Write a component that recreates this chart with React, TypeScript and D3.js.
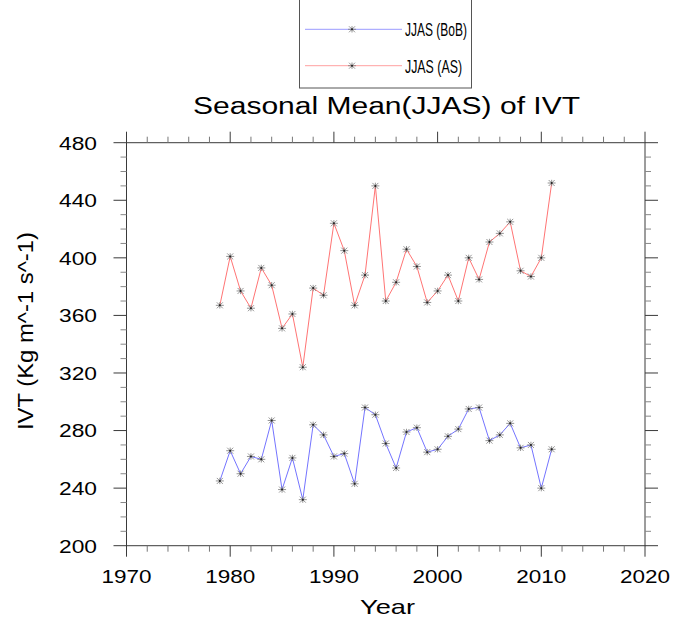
import React from 'react';
import * as d3 from 'd3';

// yearly seasonal mean IVT (JJAS)
const years = d3.range(1979, 2012);
const bobValues = [
  245, 266, 250, 262, 260, 287, 239, 261, 232, 284, 277, 262, 264, 243, 296, 291,
  271, 254, 279, 282, 265, 267, 276, 281, 295, 296, 273, 277, 285, 268, 270, 240, 267,
];
const asValues = [
  367, 401, 377, 365, 393, 381, 351, 361, 324, 379, 374, 424, 405, 367, 388, 450,
  370, 383, 406, 394, 369, 377, 388, 370, 400, 385, 411, 417, 425, 391, 387, 400, 452,
];
const xTicks = [1970, 1980, 1990, 2000, 2010, 2020];
const yTicks = [200, 240, 280, 320, 360, 400, 440, 480];
const seriesNames = ['JJAS (BoB)', 'JJAS (AS)'];
const seriesColors = ['#7474ff', '#ff7474'];
const legendColors = ['#9a9aff', '#ffa0a0'];

const W = 673;
const H = 619;
const FONT = '"Liberation Sans", Arial, Helvetica, sans-serif';

const Marker: React.FC<{ x: number; y: number }> = ({ x, y }) => (
  <g transform={`translate(${x},${y})`} stroke="#7a7a7a" strokeWidth={0.8}>
    <line x1={-4} y1={0} x2={4} y2={0} />
    <line x1={-3} y1={-3} x2={3} y2={3} />
    <line x1={-3} y1={3} x2={3} y2={-3} />
    <line x1={0} y1={-3.2} x2={0} y2={3.2} />
    <circle r={1} fill="#222" stroke="none" />
  </g>
);

const App: React.FC = () => {
  const x = d3.scaleLinear().domain([1970, 2020]).range([126.5, 645]);
  const y = d3.scaleLinear().domain([200, 480]).range([545.7, 142.7]);
  const [x0, x1] = x.range();
  const [y0, y1] = y.range();

  const line = d3
    .line<number>()
    .x((_, i) => x(years[i]))
    .y((d) => y(d));

  const xMinor = d3.range(1970, 2021, 2).filter((v) => v % 10 !== 0);
  const yMinor = d3.range(200, 481, 10).filter((v) => v % 40 !== 0);
  const frame = '#3a3a3a';

  const series = [bobValues, asValues];

  return (
    <svg
      width={W}
      height={H}
      style={{ position: 'absolute', left: 0, top: 0, background: '#fff' }}
      fontFamily={FONT}
    >
      {/* legend */}
      <rect x={299.5} y={-1} width={172} height={89} fill="none" stroke="#555" strokeWidth={1} />
      {seriesNames.map((name, i) => {
        const ly = i === 0 ? 29.3 : 65.7;
        return (
          <g key={name}>
            <line x1={305} x2={402} y1={ly} y2={ly} stroke={legendColors[i]} strokeWidth={1} />
            <Marker x={352} y={ly} />
            <text
              x={405}
              y={ly + 7}
              fontSize={18.5}
              textLength={i === 0 ? 62 : 57}
              lengthAdjust="spacingAndGlyphs"
            >
              {name}
            </text>
          </g>
        );
      })}

      {/* title */}
      <text
        x={386.5}
        y={114.3}
        fontSize={23}
        textAnchor="middle"
        textLength={387}
        lengthAdjust="spacingAndGlyphs"
      >
        Seasonal Mean(JJAS) of IVT
      </text>

      {/* frame */}
      <rect x={x0} y={y1} width={x1 - x0} height={y0 - y1} fill="none" stroke={frame} strokeWidth={1} />

      {/* x ticks */}
      {xTicks.map((t) => (
        <g key={`xt${t}`} stroke={frame}>
          <line x1={x(t)} x2={x(t)} y1={y0} y2={y0 + 11} />
          <line x1={x(t)} x2={x(t)} y1={y1} y2={y1 - 11} />
        </g>
      ))}
      {xMinor.map((t) => (
        <g key={`xm${t}`} stroke="#777">
          <line x1={x(t)} x2={x(t)} y1={y0} y2={y0 + 6} />
          <line x1={x(t)} x2={x(t)} y1={y1} y2={y1 - 6} />
        </g>
      ))}
      {xTicks.map((t) => (
        <text
          key={`xl${t}`}
          x={x(t)}
          y={583.3}
          fontSize={19}
          textAnchor="middle"
          textLength={50}
          lengthAdjust="spacingAndGlyphs"
        >
          {t}
        </text>
      ))}

      {/* y ticks */}
      {yTicks.map((t) => (
        <g key={`yt${t}`} stroke={frame}>
          <line x1={x0} x2={x0 - 13} y1={y(t)} y2={y(t)} />
          <line x1={x1} x2={x1 + 13} y1={y(t)} y2={y(t)} />
        </g>
      ))}
      {yMinor.map((t) => (
        <g key={`ym${t}`} stroke="#888">
          <line x1={x0} x2={x0 - 6} y1={y(t)} y2={y(t)} />
          <line x1={x1} x2={x1 + 6} y1={y(t)} y2={y(t)} />
        </g>
      ))}
      {yTicks.map((t) => (
        <text
          key={`yl${t}`}
          x={97}
          y={y(t) + 6.8}
          fontSize={19}
          textAnchor="end"
          textLength={38}
          lengthAdjust="spacingAndGlyphs"
        >
          {t}
        </text>
      ))}

      {/* axis titles */}
      <text
        x={387.5}
        y={614}
        fontSize={21}
        textAnchor="middle"
        textLength={55}
        lengthAdjust="spacingAndGlyphs"
      >
        Year
      </text>
      <text
        transform="translate(32.5,331) rotate(-90)"
        fontSize={22.5}
        textAnchor="middle"
        textLength={198}
        lengthAdjust="spacingAndGlyphs"
      >
        IVT (Kg m^-1 s^-1)
      </text>

      {/* series */}
      {series.map((vals, i) => (
        <g key={seriesNames[i]}>
          <path d={line(vals) || ''} fill="none" stroke={seriesColors[i]} strokeWidth={1} />
          {vals.map((v, j) => (
            <Marker key={j} x={x(years[j])} y={y(v)} />
          ))}
        </g>
      ))}
    </svg>
  );
};

export default App;
